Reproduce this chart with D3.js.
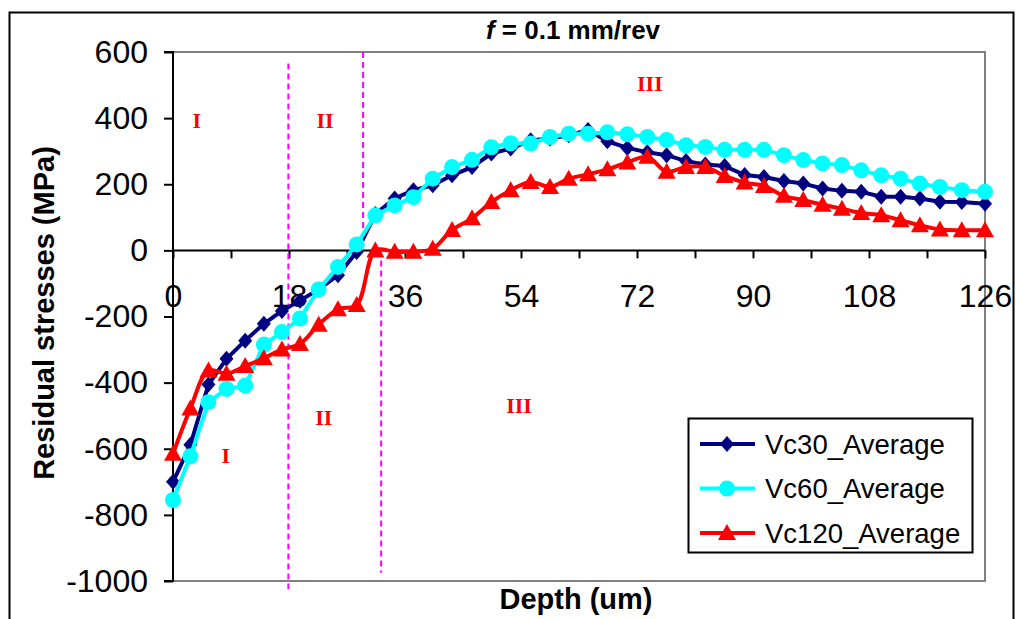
<!DOCTYPE html>
<html><head><meta charset="utf-8">
<script src="https://cdn.jsdelivr.net/npm/d3@7"></script>
<style>body{margin:0;background:#fff}svg{display:block}</style>
</head><body>
<svg id="c" width="1016" height="619"></svg>
<script>
// ---- data ----
const depth = [0, 2.7, 5.5, 8.3, 11.2, 14.1, 16.9, 19.7, 22.6, 25.6, 28.5, 31.4, 34.4, 37.3, 40.3, 43.3, 46.4, 49.4, 52.4, 55.5, 58.5, 61.4, 64.4, 67.4, 70.5, 73.6, 76.6, 79.6, 82.6, 85.6, 88.7, 91.7, 94.8, 97.8, 100.8, 103.8, 106.8, 109.9, 112.9, 115.9, 119.0, 122.4, 126];
const vc30 = [-700, -588, -406, -328, -273, -222, -183, -152, -118, -75, -5, 110, 157, 182, 197, 227, 252, 293, 308, 333, 338, 348, 364, 330, 310, 297, 288, 270, 260, 255, 228, 222, 210, 202, 187, 180, 177, 162, 162, 157, 147, 146, 141];
const vc60 = [-755, -623, -459, -419, -409, -285, -247, -206, -118, -50, 18, 106, 136, 161, 217, 252, 274, 312, 324, 323, 343, 353, 353, 357, 351, 343, 334, 318, 313, 304, 304, 304, 288, 273, 263, 258, 242, 227, 217, 202, 192, 182, 177];
const vc120 = [-615, -478, -363, -373, -350, -326, -300, -283, -225, -178, -165, 0, -4, -4, 5, 62, 97, 146, 182, 207, 192, 217, 230, 245, 266, 283, 238, 252, 252, 225, 205, 195, 165, 152, 138, 126, 113, 106, 91, 76, 63, 61, 61];
const seriesNames = ["Vc30_Average", "Vc60_Average", "Vc120_Average"];
const xTickValues = [0, 9, 18, 27, 36, 45, 54, 63, 72, 81, 90, 99, 108, 117, 126];
const xTickLabels = [0, 18, 36, 54, 72, 90, 108, 126];
const yTickValues = [600, 400, 200, 0, -200, -400, -600, -800, -1000];
// region boundary lines (depth, from stress, to stress)
const regionLines = [[17.9, 565, -1025], [29.5, 600, 0], [32.3, 0, -975]];
// region labels (text, depth, stress)
const regionLabels = [["I", 3.7, 385], ["II", 23.6, 385], ["III", 74, 497], ["I", 8.2, -627], ["II", 23.4, -512], ["III", 53.7, -476]];

// ---- drawing ----
const svg = d3.select("#c");
const W = 1016, H = 619;
svg.append("rect").attr("width", W).attr("height", H).attr("fill", "#fff");
svg.append("rect").attr("x", 9.5).attr("y", 12.5).attr("width", 1004).attr("height", 640)
  .attr("fill", "none").attr("stroke", "#000").attr("stroke-width", 2);

const x = d3.scaleLinear([0, 126], [173, 985]);
const y = d3.scaleLinear([-1000, 600], [581, 52]);
const FONT = "Arial, 'Liberation Sans', sans-serif";

// plot-area border (gray)
svg.append("rect").attr("x", x(0)).attr("y", y(600)).attr("width", x(126) - x(0)).attr("height", y(-1000) - y(600))
  .attr("fill", "none").attr("stroke", "#808080").attr("stroke-width", 2);

// y axis
const gy = svg.append("g").attr("transform", `translate(${x(0)},0)`)
  .call(d3.axisLeft(y).tickValues(yTickValues).tickSize(9).tickPadding(16).tickFormat(d => String(d)));
gy.select(".domain").attr("stroke", "#000").attr("stroke-width", 2).attr("d", `M-9,${y(600)}H0V${y(-1000)}H-9`);
gy.selectAll(".tick line").attr("stroke", "#000").attr("stroke-width", 2);
gy.selectAll(".tick text").attr("font-family", FONT).attr("font-size", 32).attr("fill", "#000");

// x axis at zero
const gx = svg.append("g").attr("transform", `translate(0,${y(0)})`)
  .call(d3.axisBottom(x).tickValues(xTickValues).tickSize(8).tickPadding(26)
    .tickFormat(d => xTickLabels.includes(d) ? String(d) : ""));
gx.select(".domain").attr("stroke", "#000").attr("stroke-width", 2).attr("d", `M${x(0)},0H${x(126)}`);
gx.selectAll(".tick line").attr("stroke", "#000").attr("stroke-width", 2);
gx.selectAll(".tick text").attr("font-family", FONT).attr("font-size", 32).attr("fill", "#000");

// region dashed lines
svg.append("g").selectAll("line").data(regionLines).join("line")
  .attr("x1", d => x(d[0])).attr("x2", d => x(d[0]))
  .attr("y1", d => y(d[1])).attr("y2", d => y(d[2]))
  .attr("stroke", "#ff00ff").attr("stroke-width", 2).attr("stroke-dasharray", "6,4");

// region labels
svg.append("g").selectAll("text").data(regionLabels).join("text")
  .attr("x", d => x(d[1])).attr("y", d => y(d[2]))
  .attr("text-anchor", "middle").attr("dominant-baseline", "middle")
  .attr("font-family", "'Liberation Serif', 'Times New Roman', serif").attr("font-weight", "bold")
  .attr("font-size", 22).attr("fill", "#ff0000").text(d => d[0]);

// series
const diamond = "M0,-8L7,0L0,8L-7,0Z";
const triangle = "M0,-9L9,7L-9,7Z";
const series = [
  {name: seriesNames[0], vals: vc30, color: "#000080", curve: d3.curveLinear, marker: "diamond"},
  {name: seriesNames[1], vals: vc60, color: "#00ffff", curve: d3.curveLinear, marker: "circle"},
  {name: seriesNames[2], vals: vc120, color: "#ff0000", curve: d3.curveCatmullRom.alpha(0.5), marker: "triangle"}
];
function drawMarker(g, type, color) {
  if (type === "circle") g.append("circle").attr("r", 8).attr("fill", color);
  else g.append("path").attr("d", type === "diamond" ? diamond : triangle).attr("fill", color);
}
series.forEach(s => {
  const pts = depth.map((d, i) => [d, s.vals[i]]);
  const line = d3.line().x(d => x(d[0])).y(d => y(d[1])).curve(s.curve);
  svg.append("path").attr("d", line(pts)).attr("fill", "none").attr("stroke", s.color)
    .attr("stroke-width", 4).attr("stroke-linejoin", "round");
  const mg = svg.append("g");
  pts.forEach(p => {
    const g = mg.append("g").attr("transform", `translate(${x(p[0])},${y(p[1])})`);
    drawMarker(g, s.marker, s.color);
  });
});

// title
const t = svg.append("text").attr("x", 573).attr("y", 39).attr("text-anchor", "middle")
  .attr("font-family", FONT).attr("font-weight", "bold").attr("font-size", 26).attr("fill", "#000");
t.append("tspan").attr("font-style", "italic").text("f");
t.append("tspan").text(" = 0.1 mm/rev");

// axis titles
svg.append("text").attr("transform", "translate(54,313) rotate(-90)").attr("text-anchor", "middle")
  .attr("font-family", FONT).attr("font-weight", "bold").attr("font-size", 29).text("Residual stresses (MPa)");
svg.append("text").attr("x", 576).attr("y", 609).attr("text-anchor", "middle")
  .attr("font-family", FONT).attr("font-weight", "bold").attr("font-size", 29).text("Depth (um)");

// legend
const lg = svg.append("g");
lg.append("rect").attr("x", 688.5).attr("y", 418.5).attr("width", 284).attr("height", 134)
  .attr("fill", "#fff").attr("stroke", "#000").attr("stroke-width", 2);
series.forEach((s, i) => {
  const cy = 444 + i * 44.5;
  lg.append("line").attr("x1", 700).attr("x2", 755).attr("y1", cy).attr("y2", cy)
    .attr("stroke", s.color).attr("stroke-width", 4);
  const g = lg.append("g").attr("transform", `translate(727,${cy})`);
  drawMarker(g, s.marker, s.color);
  lg.append("text").attr("x", 765).attr("y", cy).attr("dominant-baseline", "central")
    .attr("font-family", FONT).attr("font-size", 27.5).attr("fill", "#000").text(s.name);
});
</script>
</body></html>
